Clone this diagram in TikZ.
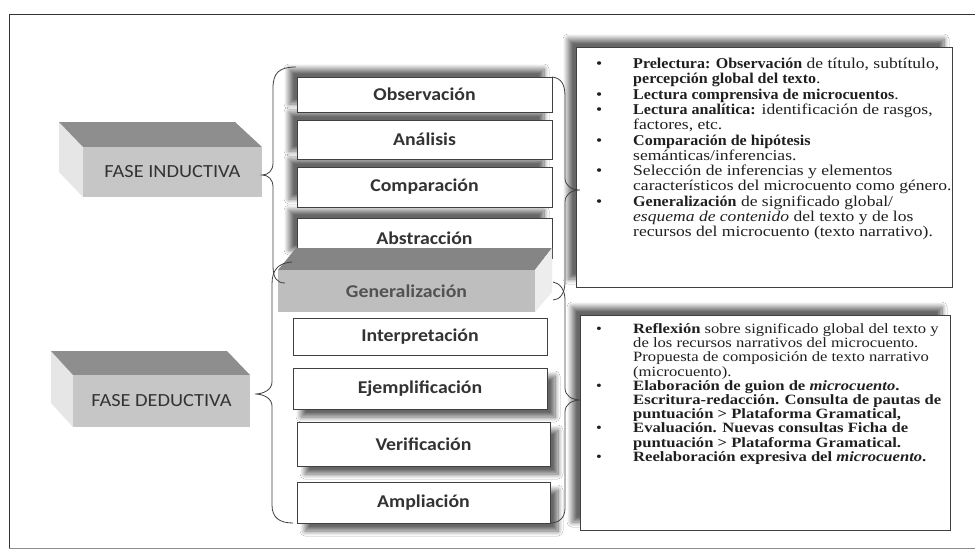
\documentclass[tikz,border=0pt]{standalone}
\usepackage{fontspec}
\usetikzlibrary{shadows.blur}
\newfontfamily\serifw[FakeStretch=1.17, BoldFeatures={FakeStretch=1.07}]{Liberation Serif}
\newfontfamily\serifv[FakeStretch=1.17]{Liberation Serif}
\newfontfamily\sansw[FakeStretch=1.1]{Carlito}
\definecolor{pfront}{HTML}{C6C6C6}
\definecolor{ptop}{HTML}{8E8E8E}
\definecolor{pside}{HTML}{E6E6E6}
\definecolor{gfront}{HTML}{BEBEBE}
\definecolor{gtop}{HTML}{858585}
\definecolor{gside}{HTML}{EDEDED}
\definecolor{ink}{HTML}{333333}
\tikzset{
  mbox/.style={draw=black!75, line width=0.8pt, fill=white, inner sep=0pt,
    font=\sansw\bfseries\fontsize{18}{20}\selectfont, text=ink},
  upshadow/.style={blur shadow={shadow xshift=-8pt, shadow yshift=8pt,
    shadow blur radius=5pt, shadow blur steps=10, shadow opacity=60}},
  downshadow/.style={blur shadow={shadow xshift=8pt, shadow yshift=-8pt,
    shadow blur radius=5pt, shadow blur steps=10, shadow opacity=60}},
  pface/.style={inner sep=0pt, font=\sansw\fontsize{18.5}{20}\selectfont, text=ink},
  bracel/.style={draw=black!75, line width=0.8pt},
  tbox/.style={draw=black!75, line width=0.9pt, fill=white, inner sep=0pt},
  ttext/.style={anchor=base west, inner sep=0pt, align=left, text=black!88},
}
\newcommand{\bul}{\makebox[37pt][l]{\textbullet}}
\newcommand{\nbul}{\hspace*{37pt}}
\begin{document}
\begin{tikzpicture}[x=1pt,y=-1pt]
\useasboundingbox (0,0) rectangle (975,551);
\fill[white] (0,0) rectangle (975,551);
% outer frame
\draw[line width=0.9pt, black!80] (975,14) -- (9,14) -- (9,548);
\draw[line width=0.9pt, black!45] (9,548) -- (975,548);

% upper column boxes (bottom-up for shadows)
\node[mbox, upshadow, minimum width=255pt, minimum height=40pt] (abs) at (424.5,238) {Abstracción};
\node[mbox, upshadow, minimum width=255pt, minimum height=40pt] (comp) at (424.5,187) {Comparación};
\node[mbox, upshadow, minimum width=255pt, minimum height=39pt] (ana) at (424.5,139.5) {Análisis};
\node[mbox, upshadow, minimum width=255pt, minimum height=35pt] (obs) at (424.5,94.5) {Observación};

% Generalizacion prism
\fill[gtop] (296,248) -- (552,248) -- (535,270) -- (278,270) -- cycle;
\fill[gside] (535,270) -- (552,248) -- (552,292) -- (535,312) -- cycle;
\node[pface, fill=gfront, minimum width=257pt, minimum height=42pt,
  font=\sansw\bfseries\fontsize{18}{20}\selectfont, text=black!68] (gen) at (406.5,291) {Generalización};

% lower column boxes
\node[mbox, minimum width=254pt, minimum height=37pt] (int) at (420,336.5) {Interpretación};
\node[mbox, downshadow, minimum width=254pt, minimum height=41pt] (ejem) at (420,388.5) {Ejemplificación};
\node[mbox, downshadow, minimum width=253pt, minimum height=44pt] (ver) at (423.5,444) {Verificación};
\node[mbox, downshadow, minimum width=253pt, minimum height=41pt] (amp) at (423.5,502.5) {Ampliación};

% right text boxes
\node[tbox, upshadow, minimum width=376pt, minimum height=240pt] (tb1) at (764,167) {};
\node[tbox, upshadow, minimum width=370pt, minimum height=215pt] (tb2) at (765,422.5) {};

\node[ttext, font=\serifw\fontsize{15}{15.3}\selectfont] (t1) at (596,236.8) {%
\bul\textbf{Prelectura: Observación} de título, subtítulo,\\
\nbul\textbf{percepción global del texto}.\\
\bul\textbf{Lectura comprensiva de microcuentos}.\\
\bul\textbf{Lectura analítica:} identificación de rasgos,\\
\nbul factores, etc.\\
\bul\textbf{Comparación de hipótesis}\\
\nbul semánticas/inferencias.\\
\bul Selección de inferencias y  elementos\\
\nbul característicos del microcuento como género.\\
\bul\textbf{Generalización} de significado global/\\
\nbul\textit{esquema de contenido} del texto y de los\\
\nbul recursos del microcuento (texto narrativo).};

\node[ttext, font=\serifv\fontsize{14.2}{14.2}\selectfont] (t2) at (596,461.3) {%
\bul\textbf{Reflexión} sobre significado global del  texto y\\
\nbul de los recursos narrativos del microcuento.\\
\nbul Propuesta de composición de texto narrativo\\
\nbul (microcuento).\\
\bul\textbf{Elaboración de guion de \textit{microcuento}.}\\
\nbul\textbf{Escritura-redacción. Consulta de pautas de}\\
\nbul\textbf{puntuación > Plataforma Gramatical,}\\
\bul\textbf{Evaluación. Nuevas consultas Ficha de}\\
\nbul\textbf{puntuación > Plataforma Gramatical.}\\
\bul\textbf{Reelaboración expresiva del \textit{microcuento}.}};

% FASE INDUCTIVA prism
\fill[pside] (59,122) -- (83,147) -- (83,197) -- (59,172) -- cycle;
\fill[ptop] (59,122) -- (235,122) -- (262,147) -- (83,147) -- cycle;
\node[pface, fill=pfront, minimum width=179pt, minimum height=50pt] (fi) at (172.5,172) {FASE INDUCTIVA};

% FASE DEDUCTIVA prism
\fill[pside] (51,351) -- (73,375) -- (73,427) -- (51,403) -- cycle;
\fill[ptop] (51,351) -- (227,351) -- (250,375) -- (73,375) -- cycle;
\node[pface, fill=pfront, minimum width=177pt, minimum height=52pt] (fd) at (161.5,401) {FASE DEDUCTIVA};

% braces
\draw[bracel] (296,67) .. controls (279,67) and (273,73) .. (273,88) -- (273,163)
  .. controls (273,171) and (268,175) .. (262,175)
  .. controls (268,175) and (273,179) .. (273,187) -- (273,266)
  .. controls (273,278) and (277,283) .. (285,283);
\draw[bracel] (292,262) .. controls (278,263) and (272,270) .. (272,284) -- (272,382)
  .. controls (272,390) and (263,394) .. (255,394)
  .. controls (263,394) and (272,398) .. (272,406) -- (272,505)
  .. controls (272,518) and (280,523) .. (293,523);
\draw[bracel] (552,77) .. controls (561,78) and (565,84) .. (565,96) -- (565,178)
  .. controls (565,186) and (572,190) .. (580,190)
  .. controls (572,190) and (565,194) .. (565,202) -- (565,282)
  .. controls (565,293) and (560,300) .. (553,300);
\draw[bracel] (553,282) .. controls (560,283) and (565,290) .. (565,300) -- (565,388)
  .. controls (565,396) and (572,400) .. (581,400)
  .. controls (572,400) and (565,404) .. (565,412) -- (565,508)
  .. controls (565,518) and (559,523) .. (550,523);
\end{tikzpicture}
\end{document}
